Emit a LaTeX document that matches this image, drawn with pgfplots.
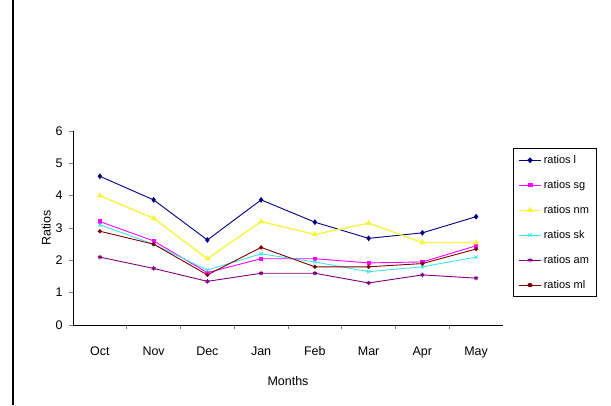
\documentclass[border=0pt]{standalone}
\usepackage{pgfplots}
\pgfplotsset{compat=1.18}
\usepackage{fontspec}
\setmainfont{Liberation Sans}

\definecolor{sNavy}{RGB}{0,0,128}
\definecolor{sMagenta}{RGB}{255,0,255}
\definecolor{sYellow}{RGB}{245,245,60}
\definecolor{sCyan}{RGB}{60,230,230}
\definecolor{sPurple}{RGB}{128,0,128}
\definecolor{sDarkRed}{RGB}{128,0,0}

\begin{document}
\begin{tikzpicture}[x=1pt,y=1pt]
\useasboundingbox (0,0) rectangle (611,405);
\fill[white] (0,0) rectangle (611,405);
% chart area border
\draw[black, line width=1.2pt] (13,0) -- (13,405);

\begin{axis}[
  at={(73pt,80pt)}, anchor=south west,
  scale only axis, width=430pt, height=194pt,
  xmin=-0.5, xmax=7.5, ymin=0, ymax=6,
  axis lines=left, axis line style={-, line width=0.8pt},
  xtick={0,...,7},
  xticklabels={Oct,Nov,Dec,Jan,Feb,Mar,Apr,May},
  major x tick style={draw=none},
  minor xtick={0.5,1.5,...,6.5},
  minor x tick style={line width=0.8pt},
  ytick={0,...,6},
  tick align=outside,
  major tick length=4pt, minor tick length=4pt,
  ytick style={line width=0.8pt},
  tick label style={font=\fontsize{12.5}{14}\selectfont},
  xticklabel style={yshift=-14pt},
  yticklabel style={xshift=-3pt},
  /pgf/number format/assume math mode=true,
  xlabel={Months}, ylabel={Ratios},
  label style={font=\fontsize{12.5}{14}\selectfont},
  xlabel style={yshift=-12pt},
  ylabel style={yshift=-2pt},
  legend cell align=left,
  legend style={at={(1.023,0.912)}, anchor=north west,
    font=\fontsize{11}{13}\selectfont, draw=black, line width=0.8pt,
    row sep=11.5pt, inner sep=5pt},
  legend image post style={xscale=1.3},
  every axis plot/.append style={line width=0.9pt, mark size=2.2pt},
]
\addplot[sNavy, mark=diamond*] coordinates
  {(0,4.6) (1,3.87) (2,2.63) (3,3.87) (4,3.18) (5,2.68) (6,2.85) (7,3.35)};
\addlegendentry{ratios l}
\addplot[sMagenta, mark=square*, mark size=1.6pt] coordinates
  {(0,3.2) (1,2.6) (2,1.62) (3,2.05) (4,2.05) (5,1.92) (6,1.95) (7,2.45)};
\addlegendentry{ratios sg}
\addplot[sYellow, line width=1.3pt, mark=triangle*] coordinates
  {(0,4.0) (1,3.3) (2,2.05) (3,3.2) (4,2.8) (5,3.15) (6,2.55) (7,2.55)};
\addlegendentry{ratios nm}
\addplot[sCyan, mark=x] coordinates
  {(0,3.1) (1,2.5) (2,1.7) (3,2.2) (4,1.95) (5,1.65) (6,1.8) (7,2.1)};
\addlegendentry{ratios sk}
\addplot[sPurple, mark=asterisk] coordinates
  {(0,2.1) (1,1.75) (2,1.35) (3,1.6) (4,1.6) (5,1.3) (6,1.55) (7,1.45)};
\addlegendentry{ratios am}
\addplot[sDarkRed, mark=*, mark size=1.6pt] coordinates
  {(0,2.9) (1,2.5) (2,1.55) (3,2.4) (4,1.8) (5,1.8) (6,1.9) (7,2.35)};
\addlegendentry{ratios ml}
\end{axis}
\end{tikzpicture}
\end{document}
